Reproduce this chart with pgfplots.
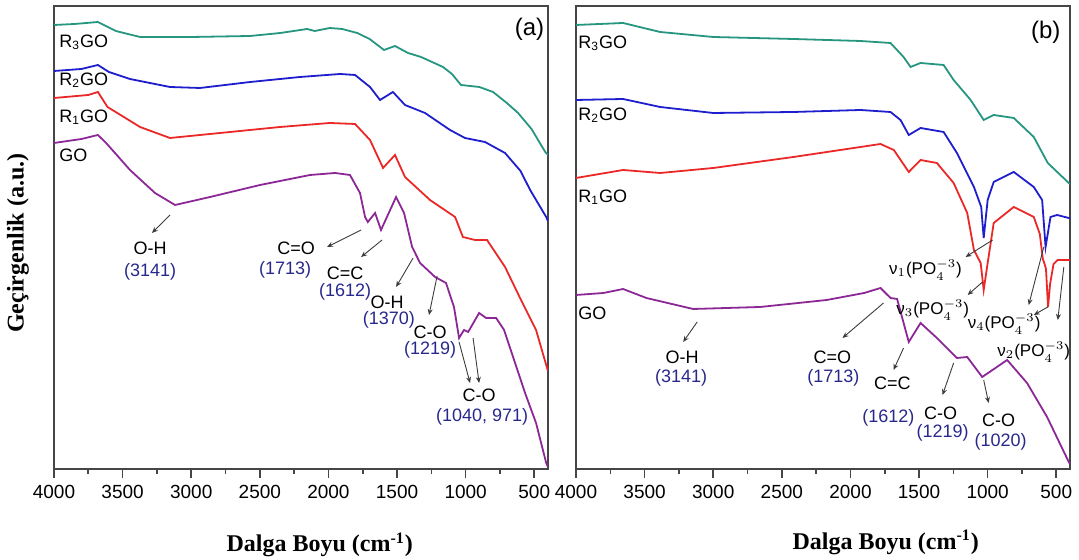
\documentclass[border=0pt]{standalone}
\usepackage{pgfplots}
\pgfplotsset{compat=1.18}
\usepackage{fontspec}
\setmainfont{Liberation Sans}
\newfontfamily\tnr{Liberation Serif}
\usetikzlibrary{arrows.meta}
\definecolor{cteal}{RGB}{38,150,128}
\definecolor{cblue}{RGB}{30,30,205}
\definecolor{cred}{RGB}{235,40,40}
\definecolor{cpurp}{RGB}{140,40,150}
\definecolor{cnavy}{RGB}{40,40,140}
\definecolor{axgray}{RGB}{70,70,70}
\definecolor{argray}{RGB}{60,60,60}
\newcommand{\po}{(PO$_4^{-3}$)}
\tikzset{
  lbl/.style={font=\fontsize{9}{10}\selectfont, inner sep=0pt},
  nlbl/.style={font=\fontsize{8.5}{10}\selectfont, inner sep=0pt},
  num/.style={font=\fontsize{9}{10}\selectfont, text=cnavy, inner sep=0pt},
  arr/.style={-{Stealth[length=3pt,width=2.5pt]}, argray, line width=0.45pt},
}
\pgfplotsset{ftir/.style={
  scale only axis, width=247pt, height=231.5pt,
  xmin=400, xmax=4000, x dir=reverse, ymin=0, ymax=463,
  xtick={500,1000,...,4000}, minor x tick num=1, xtick pos=left, tick align=outside,
  ytick=\empty,
  major tick length=4.5pt, minor tick length=2.5pt,
  axis line style={draw=axgray, line width=1pt},
  every tick/.style={axgray, line width=0.8pt},
  tick label style={font=\fontsize{9.5}{10}\selectfont},
  /pgf/number format/assume math mode=true,
  /pgf/number format/1000 sep={},
  every axis plot/.append style={line width=0.9pt, no markers},
  xlabel style={font=\fontsize{12}{14}\selectfont\tnr\bfseries, anchor=center},
  ylabel style={font=\fontsize{12}{14}\selectfont\tnr\bfseries, anchor=center},
}}
\begin{document}
\begin{tikzpicture}
\useasboundingbox (0,0) rectangle (539.5pt,280pt);
% ---------------- panel (a)
\begin{axis}[ftir, at={(27pt,45.5pt)}, anchor=south west,
  xlabel={Dalga Boyu (cm\textsuperscript{-1})},
  xlabel style={at={(axis description cs:0.538,-0.164)}},
  ylabel={Geçirgenlik (a.u.)},
  ylabel style={at={(axis description cs:-0.073,0.488)}}]
\addplot[cteal] table {
4000 444
3850 445
3680 447
3550 438
3373 432
3000 432
2570 433
2350 436
2156 440
2100 438
1990 441
1900 440
1790 436
1700 430
1595 419
1515 423
1420 416
1325 412
1165 402
1100 395
1034 384
900 382
800 377
700 366
618 356
520 340
420 317
400 314
};
\addplot[cblue] table {
4000 398
3800 400
3680 404
3600 397
3446 390
3155 382
2936 381
2570 387
2207 392
1915 395
1806 394
1697 382
1624 369
1530 377
1442 364
1296 356
1114 339
1005 331
859 327
713 316
600 298
530 279
413 252
400 248
};
\addplot[cred] table {
4000 371
3750 374
3680 377
3610 362
3373 342
3155 331
2790 336
2353 342
1990 346
1806 345
1697 329
1602 301
1515 314
1442 292
1260 269
1077 252
1020 232
932 229
844 229
713 202
600 170
487 139
413 104
400 98
};
\addplot[cpurp] table {
4000 326
3800 330
3680 334
3620 326
3446 299
3264 276
3118 264
2863 272
2498 284
2134 294
1952 296
1843 294
1770 276
1733 252
1713 247
1660 256
1617 239
1507 272
1449 256
1390 222
1332 206
1223 192
1143 186
1085 162
1048 131
1012 139
982 137
902 156
851 151
778 151
720 139
647 109
567 76
487 46
413 6
400 2
};
\node[lbl, anchor=west] at (axis cs:3964,427) {R\textsubscript{3}GO};
\node[lbl, anchor=west] at (axis cs:3964,389) {R\textsubscript{2}GO};
\node[lbl, anchor=west] at (axis cs:3964,352) {R\textsubscript{1}GO};
\node[lbl, anchor=west] at (axis cs:3964,314) {GO};
\node[font=\fontsize{12}{13}\selectfont] at (axis cs:535,440) {(a)};
\node[lbl] at (axis cs:3300,221) {O-H};
\node[num] at (axis cs:3300,197) {(3141)};
\draw[arr] (axis cs:3154,254) -- (axis cs:3286,236);
\node[lbl] at (axis cs:2236,221) {C=O};
\node[num] at (axis cs:2316,199) {(1713)};
\draw[arr] (axis cs:1762,239) -- (axis cs:2010,222);
\node[lbl] at (axis cs:1879,196) {C=C};
\node[num] at (axis cs:1879,177) {(1612)};
\draw[arr] (axis cs:1609,229) -- (axis cs:1762,212);
\node[lbl] at (axis cs:1573,167) {O-H};
\node[num] at (axis cs:1560,149) {(1370)};
\draw[arr] (axis cs:1383,211) -- (axis cs:1507,182);
\node[lbl] at (axis cs:1259,137) {C-O};
\node[num] at (axis cs:1259,119) {(1219)};
\draw[arr] (axis cs:1208,193) -- (axis cs:1267,154);
\node[lbl] at (axis cs:902,74) {C-O};
\node[num] at (axis cs:880,52) {(1040, 971)};
\draw[arr] (axis cs:1048,127) -- (axis cs:968,86);
\draw[arr] (axis cs:946,131) -- (axis cs:902,86);
\end{axis}
% ---------------- panel (b)
\begin{axis}[ftir, at={(288pt,45.5pt)}, anchor=south west,
  xlabel={Dalga Boyu (cm\textsuperscript{-1})},
  xlabel style={at={(axis description cs:0.627,-0.158)}}]
\addplot[cteal] table {
4000 444
3657 446
3387 437
3000 432
2416 430
1927 428
1708 426
1613 412
1562 402
1489 406
1321 404
1248 389
1124 369
1029 349
956 354
810 351
664 332
562 306
409 286
400 285
};
\addplot[cblue] table {
4000 369
3657 370
3387 362
3000 356
2416 357
1927 359
1708 357
1635 349
1575 334
1489 341
1321 337
1224 316
1100 282
1047 262
1029 231
1000 269
956 287
810 297
664 282
603 269
578 222
542 252
494 254
409 251
400 251
};
\addplot[cred] table {
4000 291
3657 299
3387 296
3000 301
2416 312
1927 322
1781 325
1684 319
1575 297
1489 309
1370 306
1248 286
1149 256
1100 219
1051 206
1029 179
1000 206
956 246
810 262
664 252
620 235
598 210
585 205
575 200
560 162
545 185
520 205
490 209
416 209
400 209
};
\addplot[cpurp] table {
4000 174
3800 176
3657 180
3487 171
3146 160
2659 162
2173 169
1900 176
1781 181
1708 171
1660 170
1575 127
1489 146
1370 131
1224 111
1149 112
1040 92
858 109
713 86
567 52
409 7
400 5
};
\node[lbl, anchor=west] at (axis cs:3985,426) {R\textsubscript{3}GO};
\node[lbl, anchor=west] at (axis cs:3985,354) {R\textsubscript{2}GO};
\node[lbl, anchor=west] at (axis cs:3985,272) {R\textsubscript{1}GO};
\node[lbl, anchor=west] at (axis cs:3985,156) {GO};
\node[font=\fontsize{12}{13}\selectfont] at (axis cs:577,437) {(b)};
\node[lbl] at (axis cs:3226,112) {O-H};
\node[num] at (axis cs:3234,91) {(3141)};
\draw[arr] (axis cs:3117,147) -- (axis cs:3219,127);
\node[lbl] at (axis cs:2131,112) {C=O};
\node[num] at (axis cs:2124,91) {(1713)};
\draw[arr] (axis cs:1759,166) -- (axis cs:2058,131);
\node[lbl] at (axis cs:1694,86) {C=C};
\node[num] at (axis cs:1723,51) {(1612)};
\draw[arr] (axis cs:1613,121) -- (axis cs:1686,99);
\node[lbl] at (axis cs:1343,56) {C-O};
\node[num] at (axis cs:1329,36) {(1219)};
\draw[arr] (axis cs:1248,106) -- (axis cs:1329,74);
\node[lbl] at (axis cs:920,49) {C-O};
\node[num] at (axis cs:905,27) {(1020)};
\draw[arr] (axis cs:1029,89) -- (axis cs:993,66);
\node[nlbl] at (axis cs:1453,199) {ν$_1$\po};
\draw[arr] (axis cs:964,229) -- (axis cs:1161,212);
\node[nlbl] at (axis cs:1400,159) {ν$_3$\po};
\draw[arr] (axis cs:1037,187) -- (axis cs:1146,174);
\node[nlbl] at (axis cs:880,145) {ν$_4$\po};
\draw[arr] (axis cs:591,222) -- (axis cs:701,164);
\draw[arr] (axis cs:562,162) -- (axis cs:664,154);
\node[nlbl] at (axis cs:664,117) {ν$_2$\po};
\draw[arr] (axis cs:445,202) -- (axis cs:489,149);
\end{axis}
\end{tikzpicture}
\end{document}
